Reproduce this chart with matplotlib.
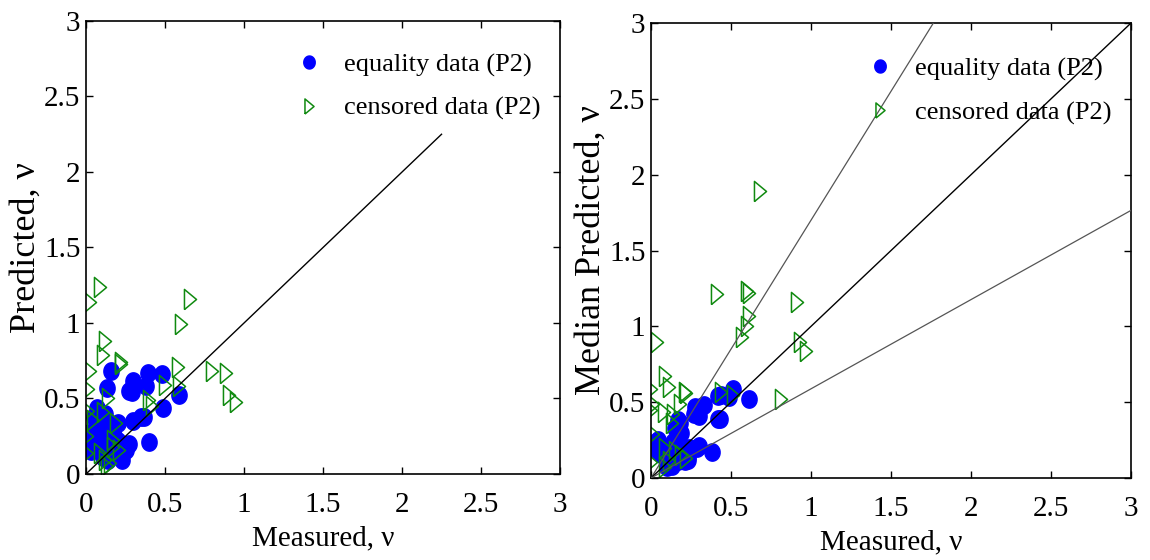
import numpy as np
import matplotlib
matplotlib.use("Agg")
import matplotlib.pyplot as plt

plt.rcParams['font.family'] = ['Liberation Serif', 'DejaVu Serif']

# ---------------- data ----------------
ticks = [0, 0.5, 1, 1.5, 2, 2.5, 3]
tick_labels = ["0", "0.5", "1", "1.5", "2", "2.5", "3"]

# Left panel: equality data (P2)
left_eq_x = [0.16, 0.30, 0.27, 0.39, 0.48, 0.135, 0.59, 0.49, 0.37, 0.30, 0.40,
             0.29, 0.38, 0.12, 0.05, 0.205, 0.35, 0.06, 0.10, 0.04, 0.18, 0.27,
             0.25, 0.205, 0.10, 0.14, 0.23, 0.08, 0.02, 0.07, 0.12, 0.16, 0.20,
             0.03, 0.09, 0.15, 0.22, 0.11, 0.06, 0.17, 0.13, 0.24]
left_eq_y = [0.68, 0.615, 0.55, 0.67, 0.66, 0.57, 0.52, 0.44, 0.38, 0.35, 0.21,
             0.545, 0.58, 0.40, 0.38, 0.335, 0.38, 0.31, 0.25, 0.20, 0.25, 0.20,
             0.16, 0.14, 0.14, 0.09, 0.09, 0.33, 0.27, 0.44, 0.30, 0.31, 0.22,
             0.15, 0.20, 0.18, 0.12, 0.11, 0.36, 0.13, 0.23, 0.17]

# Left panel: censored data (P2)
left_cen_x = [0.088, 0.025, 0.66, 0.60, 0.12, 0.105, 0.22, 0.025, 0.58, 0.80,
              0.885, 0.50, 0.59, 0.905, 0.95, 0.015, 0.14, 0.40, 0.42, 0.015,
              0.19, 0.046, 0.005, 0.17, 0.17, 0.21, 0.005, 0.12, 0.13, 0.09,
              0.22, 0.11, 0.15]
left_cen_y = [1.236, 1.14, 1.16, 0.99, 0.88, 0.79, 0.74, 0.68, 0.71, 0.68,
              0.67, 0.59, 0.58, 0.52, 0.48, 0.56, 0.50, 0.49, 0.45, 0.42,
              0.335, 0.36, 0.25, 0.225, 0.18, 0.16, 0.14, 0.09, 0.05, 0.14,
              0.73, 0.41, 0.07]

# Right panel: equality data (P2)
right_eq_x = [0.51, 0.42, 0.61, 0.49, 0.33, 0.275, 0.30, 0.42, 0.17, 0.19,
              0.15, 0.046, 0.38, 0.30, 0.24, 0.17, 0.09, 0.03, 0.11, 0.17,
              0.13, 0.23, 0.44, 0.31, 0.27, 0.43, 0.18, 0.29, 0.04, 0.08,
              0.21, 0.10, 0.23, 0.06, 0.14, 0.02]
right_eq_y = [0.59, 0.54, 0.52, 0.535, 0.48, 0.47, 0.41, 0.39, 0.38, 0.30,
              0.33, 0.25, 0.17, 0.21, 0.20, 0.19, 0.19, 0.21, 0.13, 0.11,
              0.08, 0.12, 0.545, 0.47, 0.425, 0.39, 0.36, 0.20, 0.18, 0.20,
              0.115, 0.07, 0.14, 0.16, 0.24, 0.23]

# Right panel: censored data (P2)
right_cen_x = [0.68, 0.41, 0.60, 0.61, 0.91, 0.61, 0.60, 0.57, 0.93, 0.97,
               0.035, 0.815, 0.087, 0.11, 0.21, 0.22, 0.44, 0.51, 0.0, 0.01,
               0.0, 0.08, 0.14, 0.18, 0.13, 0.01, 0.087, 0.15, 0.19, 0.22,
               0.0, 0.11, 0.087]
right_cen_y = [1.89, 1.21, 1.23, 1.22, 1.16, 1.07, 1.00, 0.93, 0.90, 0.84,
               0.90, 0.52, 0.67, 0.60, 0.57, 0.56, 0.57, 0.55, 0.59, 0.49,
               0.45, 0.435, 0.425, 0.49, 0.36, 0.29, 0.20, 0.18, 0.15, 0.13,
               0.105, 0.115, 0.07]

left_line_end = 2.25
ratio = 1.7

# ---------------- styling ----------------
blue = '#0000ff'
green = '#108a10'
tri = [(-0.6, -1.0), (0.6, 0.0), (-0.6, 1.0), (-0.6, -1.0)]
th = np.linspace(0, 2 * np.pi, 40)
ell = list(zip(0.88 * np.cos(th), np.sin(th)))

fig = plt.figure(figsize=(11.5, 5.6), dpi=100)
axL = fig.add_axes([0.0748, 0.1536, 0.4122, 0.8089])
axR = fig.add_axes([0.5661, 0.1464, 0.4174, 0.8125])

def style(ax, ylabel):
    ax.set_xlim(0, 3)
    ax.set_ylim(0, 3)
    ax.set_xticks(ticks)
    ax.set_yticks(ticks)
    ax.set_xticklabels(tick_labels)
    ax.set_yticklabels(tick_labels)
    ax.tick_params(direction='in', length=5, width=1, top=True, right=True,
                   labelsize=21)
    ax.tick_params(axis='x', pad=13)
    ax.tick_params(axis='y', pad=4)
    for s in ax.spines.values():
        s.set_linewidth(1.2)
    ax.set_xlabel('Measured, ν', fontsize=21, labelpad=5)
    ax.set_ylabel(ylabel, fontsize=26, labelpad=1)

MS_C = 12.5
MS_T = 14.5

# Left panel
axL.plot([0, left_line_end], [0, left_line_end], color='black', lw=1.0, zorder=3)
axL.plot(left_eq_x, left_eq_y, linestyle='none', marker=ell, markersize=MS_C,
         color=blue, markeredgecolor=blue, label='equality data (P2)', zorder=2)
axL.plot(left_cen_x, left_cen_y, linestyle='none', marker=tri, markersize=MS_T,
         markerfacecolor='none', markeredgecolor=green, markeredgewidth=1.1,
         label='censored data (P2)', zorder=2.5)
style(axL, 'Predicted, ν')

# Right panel
axR.plot([0, 3], [0, 3 * ratio], color='#555555', lw=0.9, zorder=3)
axR.plot([0, 3], [0, 3], color='black', lw=1.0, zorder=3)
axR.plot([0, 3], [0, 3 / ratio], color='#555555', lw=0.9, zorder=3)
axR.plot(right_eq_x, right_eq_y, linestyle='none', marker=ell, markersize=MS_C,
         color=blue, markeredgecolor=blue, label='equality data (P2)', zorder=2)
axR.plot(right_cen_x, right_cen_y, linestyle='none', marker=tri, markersize=MS_T,
         markerfacecolor='none', markeredgecolor=green, markeredgewidth=1.1,
         label='censored data (P2)', zorder=2.5)
style(axR, 'Median Predicted, ν')

for ax, anchor in ((axL, (0.443, 0.93)), (axR, (0.45, 0.925))):
    ax.legend(loc='upper left', bbox_to_anchor=anchor, frameon=False,
              fontsize=19, handlelength=1.0, handletextpad=0.8,
              labelspacing=0.75, borderpad=0, borderaxespad=0, markerscale=0.75)

fig.savefig('out.png', dpi=100)
